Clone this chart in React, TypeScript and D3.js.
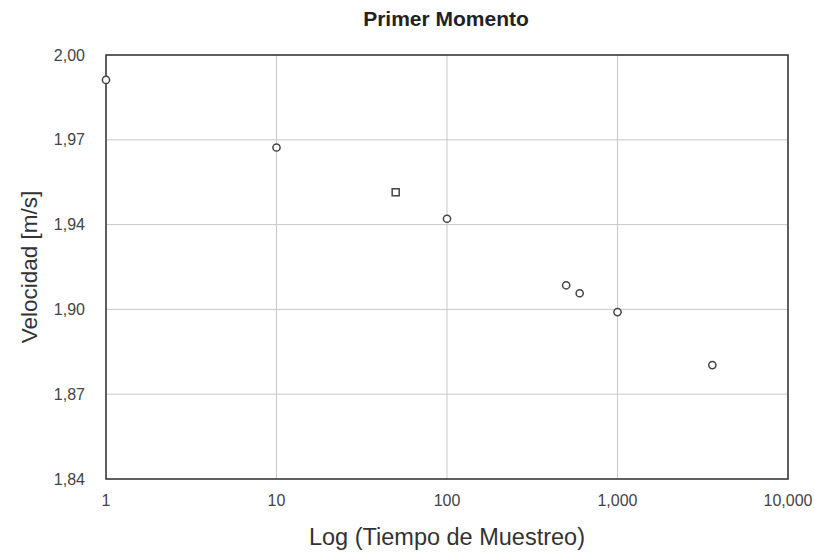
import React from "react";
import * as d3 from "d3";

const tiempos = [1, 10, 50, 100, 500, 600, 1000, 3600];
const velocidades = [1.9906, 1.9651, 1.9482, 1.9382, 1.9131, 1.9101, 1.903, 1.883];
const marcadores = ["circle", "circle", "square", "circle", "circle", "circle", "circle", "circle"];
const yTicks = [1.84, 1.872, 1.904, 1.936, 1.968, 2.0];
const xTicks = [1, 10, 100, 1000, 10000];

const W = 815, H = 552;
const M = { left: 106, right: 788, top: 55, bottom: 479 };

export default function App() {
  const x = d3.scaleLog().domain([1, 10000]).range([M.left, M.right]);
  const y = d3.scaleLinear().domain([1.84, 2.0]).range([M.bottom, M.top]);
  const fmtY = (v: number) => v.toFixed(2).replace(".", ",");
  const fmtX = d3.format(",");
  const font = "'Liberation Sans', Arial, Helvetica, sans-serif";
  return (
    <svg width={W} height={H} style={{ position: "absolute", left: 0, top: 0, background: "#fff" }} fontFamily={font}>
      <rect x={0} y={0} width={W} height={H} fill="#fff" />
      {yTicks.map((t, i) => (
        <g key={"y" + i}>
          <line x1={M.left} x2={M.right} y1={y(t)} y2={y(t)} stroke="#c8c8c8" strokeWidth={1} />
          <text x={85} y={y(t)} dy="0.35em" textAnchor="end" fontSize={16} fill="#444">{fmtY(t)}</text>
        </g>
      ))}
      {xTicks.map((t, i) => (
        <g key={"x" + i}>
          <line x1={x(t)} x2={x(t)} y1={M.top} y2={M.bottom} stroke="#c8c8c8" strokeWidth={1} />
          <text x={x(t)} y={506} textAnchor="middle" fontSize={16} fill="#444">{fmtX(t)}</text>
        </g>
      ))}
      <rect x={M.left} y={M.top} width={M.right - M.left} height={M.bottom - M.top} fill="none" stroke="#333" strokeWidth={1.5} />
      {tiempos.map((t, i) =>
        marcadores[i] === "square" ? (
          <rect key={"p" + i} x={x(t) - 3.5} y={y(velocidades[i]) - 3.5} width={7} height={7} fill="#fff" stroke="#444" strokeWidth={1.5} />
        ) : (
          <circle key={"p" + i} cx={x(t)} cy={y(velocidades[i])} r={3.6} fill="#fff" stroke="#444" strokeWidth={1.5} />
        )
      )}
      <text x={446} y={26} textAnchor="middle" fontSize={21} fontWeight="bold" fill="#222">Primer Momento</text>
      <text x={447} y={545} textAnchor="middle" fontSize={23.5} fill="#333">Log (Tiempo de Muestreo)</text>
      <text transform={`translate(37,${(M.top + M.bottom) / 2}) rotate(-90)`} textAnchor="middle" fontSize={22.5} fill="#333">Velocidad [m/s]</text>
    </svg>
  );
}
